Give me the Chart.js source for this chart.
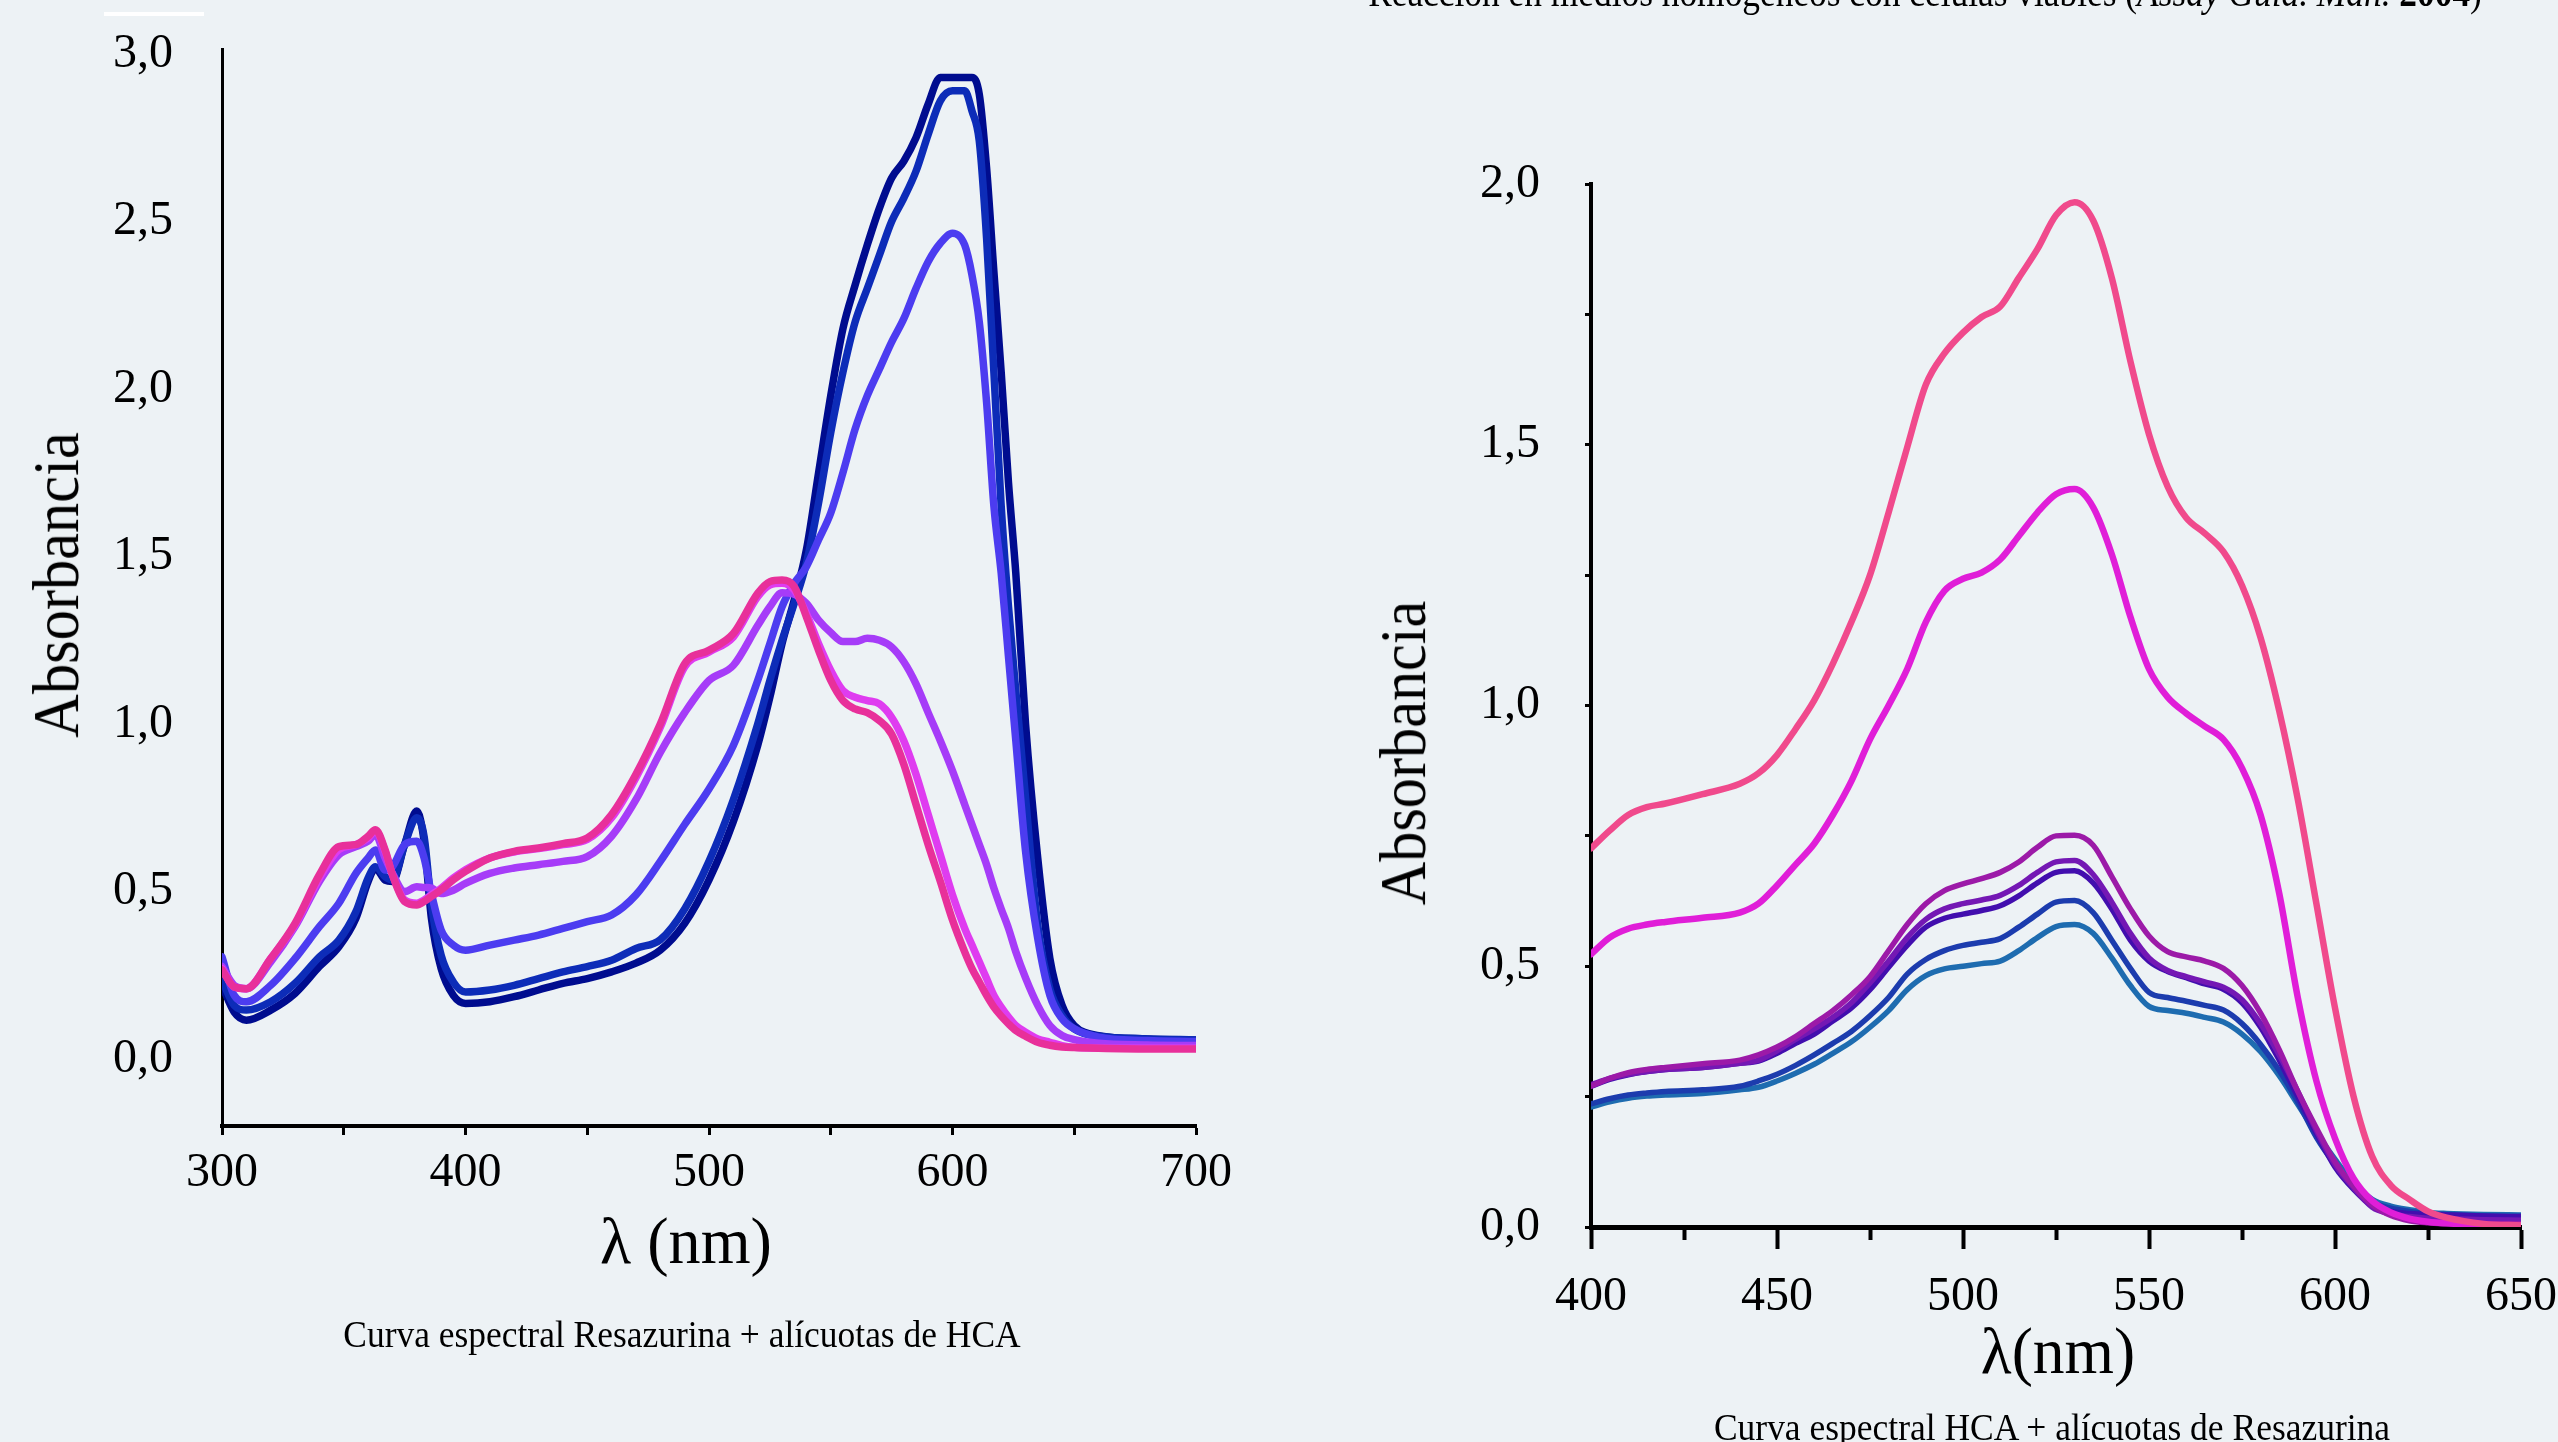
<!DOCTYPE html>
<html>
<head>
<meta charset="utf-8">
<script src="https://cdn.jsdelivr.net/npm/chart.js@4.4.1/dist/chart.umd.min.js"></script>
<style>
  html, body { margin: 0; padding: 0; width: 2558px; height: 1442px; overflow: hidden; background: #edf2f5; }
  canvas { position: absolute; top: 0; }
  .txt { position: absolute; white-space: nowrap; color: #000; font-family: "Liberation Serif", serif; line-height: 1.15; }
  .bar { position: absolute; left: 104px; top: 12px; width: 100px; height: 4px; background: #fff; }
</style>
</head>
<body>
<div class="bar"></div>
<canvas id="leftChart" width="1280" height="1442" style="left:0"></canvas>
<canvas id="rightChart" width="1278" height="1442" style="left:1280px"></canvas>

<div class="txt fit" data-x="1925" data-y="-7" data-w="1114" style="font-size:40px">Reacción en medios homogéneos con células viables (<i>Assay Guid. Man.</i> <b>2004</b>)</div>
<div class="txt fit" data-x="56" data-y="585" data-w="306" data-rot="1" style="font-size:66px">Absorbancia</div>
<div class="txt fit" data-x="686" data-y="1241" data-w="172" style="font-size:66px">λ (nm)</div>
<div class="txt fit" data-x="682" data-y="1335" data-w="677" style="font-size:38px">Curva espectral Resazurina + alícuotas de HCA</div>
<div class="txt fit" data-x="1403" data-y="753" data-w="305" data-rot="1" style="font-size:66px">Absorbancia</div>
<div class="txt fit" data-x="2058" data-y="1351" data-w="154" style="font-size:66px">λ(nm)</div>
<div class="txt fit" data-x="2052" data-y="1428" data-w="676" style="font-size:38px">Curva espectral HCA + alícuotas de Resazurina</div>

<script>
// =======================================
// DATA - LEFT PANEL (Resazurina + alícuotas de HCA)
// =======================================
const leftNm = [300, 305, 310, 320, 330, 340, 348, 355, 360, 363,
  367, 370, 375, 380, 383, 386, 390, 395, 400, 410,
  420, 430, 440, 450, 460, 470, 480, 490, 500, 510,
  520, 525, 530, 535, 540, 545, 550, 555, 560, 565,
  570, 575, 580, 585, 590, 595, 600, 605, 608, 611,
  614, 617, 620, 623, 626, 630, 635, 640, 645, 650,
  660, 680, 700];

const leftNavy = [0.22, 0.14, 0.116, 0.146, 0.196, 0.276, 0.335, 0.42, 0.53, 0.569,
  0.534, 0.53, 0.64, 0.74, 0.65, 0.42, 0.27, 0.19, 0.166, 0.171,
  0.186, 0.206, 0.226, 0.24, 0.26, 0.286, 0.325, 0.405, 0.535, 0.709,
  0.936, 1.08, 1.24, 1.37, 1.52, 1.75, 1.98, 2.18, 2.31, 2.43,
  2.54, 2.63, 2.68, 2.75, 2.85, 2.93, 2.93, 2.93, 2.93, 2.88,
  2.66, 2.35, 2.05, 1.72, 1.45, 1.0, 0.6, 0.3, 0.16, 0.1,
  0.07, 0.06, 0.057];

const leftBlue = [0.236, 0.16, 0.146, 0.171, 0.226, 0.305, 0.355, 0.44, 0.54, 0.574,
  0.544, 0.534, 0.64, 0.72, 0.664, 0.46, 0.31, 0.23, 0.2, 0.206,
  0.22, 0.24, 0.26, 0.276, 0.295, 0.33, 0.356, 0.448, 0.59, 0.774,
  1.0, 1.13, 1.25, 1.36, 1.48, 1.66, 1.87, 2.05, 2.2, 2.3,
  2.4, 2.5, 2.57, 2.65, 2.76, 2.86, 2.89, 2.89, 2.83, 2.74,
  2.45, 2.05, 1.65, 1.35, 1.1, 0.78, 0.4, 0.21, 0.13, 0.09,
  0.068, 0.06, 0.057];

const leftViolet = [0.305, 0.19, 0.171, 0.22, 0.3, 0.395, 0.465, 0.554, 0.6, 0.624,
  0.564, 0.574, 0.64, 0.65, 0.6, 0.494, 0.385, 0.34, 0.325, 0.34,
  0.355, 0.37, 0.39, 0.41, 0.43, 0.49, 0.59, 0.7, 0.806, 0.936,
  1.13, 1.24, 1.35, 1.42, 1.47, 1.55, 1.63, 1.75, 1.88, 1.98,
  2.06, 2.14, 2.21, 2.3, 2.38, 2.435, 2.465, 2.43, 2.34, 2.2,
  1.96, 1.65, 1.45, 1.2, 0.95, 0.62, 0.36, 0.19, 0.12, 0.09,
  0.065, 0.055, 0.052];

const leftPurple = [0.276, 0.22, 0.21, 0.29, 0.395, 0.53, 0.61, 0.634, 0.65, 0.67,
  0.6, 0.554, 0.5, 0.514, 0.512, 0.51, 0.494, 0.504, 0.524, 0.554,
  0.57, 0.58, 0.59, 0.604, 0.665, 0.774, 0.915, 1.034, 1.13, 1.175,
  1.294, 1.35, 1.392, 1.387, 1.36, 1.31, 1.273, 1.246, 1.246, 1.256,
  1.25, 1.23, 1.186, 1.12, 1.034, 0.95, 0.86, 0.76, 0.7, 0.64,
  0.58, 0.51, 0.448, 0.39, 0.32, 0.242, 0.16, 0.1, 0.07, 0.058,
  0.047, 0.042, 0.04];

const leftMagenta = [0.27, 0.215, 0.21, 0.3, 0.4, 0.54, 0.625, 0.64, 0.66, 0.68,
  0.62, 0.55, 0.475, 0.465, 0.475, 0.49, 0.51, 0.54, 0.565, 0.6,
  0.618, 0.628, 0.64, 0.655, 0.72, 0.84, 0.99, 1.17, 1.215, 1.26,
  1.38, 1.415, 1.42, 1.4, 1.33, 1.24, 1.16, 1.1, 1.08, 1.07,
  1.06, 1.02, 0.95, 0.85, 0.73, 0.61, 0.49, 0.39, 0.34, 0.29,
  0.24, 0.19, 0.155, 0.125, 0.1, 0.08, 0.06, 0.05, 0.04, 0.035,
  0.033, 0.032, 0.032];

const leftPink = [0.266, 0.215, 0.21, 0.3, 0.405, 0.55, 0.634, 0.64, 0.665, 0.684,
  0.624, 0.55, 0.47, 0.46, 0.47, 0.485, 0.505, 0.535, 0.56, 0.6,
  0.62, 0.63, 0.643, 0.66, 0.73, 0.85, 1.0, 1.18, 1.22, 1.27,
  1.39, 1.425, 1.43, 1.41, 1.32, 1.22, 1.13, 1.07, 1.045, 1.034,
  1.01, 0.97, 0.88, 0.76, 0.64, 0.53, 0.415, 0.32, 0.27, 0.23,
  0.19, 0.155, 0.128, 0.105, 0.085, 0.068, 0.05, 0.041, 0.036, 0.034,
  0.032, 0.03, 0.03];

const leftXTicks = [300, 350, 400, 450, 500, 550, 600, 650, 700];
const leftYTicks = [0, 0.5, 1, 1.5, 2, 2.5, 3];

// =======================================
// DATA - RIGHT PANEL (HCA + alícuotas de Resazurina)
// =======================================
const rightNm = [400, 405, 410, 415, 420, 430, 440, 445, 450, 455,
  460, 465, 470, 475, 480, 485, 490, 495, 500, 505,
  510, 515, 520, 525, 530, 535, 540, 545, 550, 555,
  560, 565, 570, 575, 580, 585, 590, 595, 600, 605,
  610, 615, 620, 625, 630, 640, 650];

const rightPink = [0.726, 0.76, 0.79, 0.805, 0.812, 0.83, 0.85, 0.87, 0.905, 0.955,
  1.01, 1.08, 1.16, 1.25, 1.37, 1.495, 1.615, 1.675, 1.715, 1.745,
  1.765, 1.82, 1.875, 1.94, 1.965, 1.93, 1.82, 1.66, 1.52, 1.42,
  1.36, 1.33, 1.295, 1.23, 1.13, 0.99, 0.82, 0.62, 0.42, 0.25,
  0.135, 0.08, 0.053, 0.03, 0.018, 0.006, 0.003];

const rightMagenta = [0.523, 0.555, 0.572, 0.58, 0.585, 0.593, 0.603, 0.62, 0.655, 0.695,
  0.735, 0.79, 0.855, 0.935, 1.0, 1.07, 1.16, 1.22, 1.243, 1.255,
  1.28, 1.325, 1.37, 1.405, 1.415, 1.38, 1.29, 1.17, 1.07, 1.016,
  0.985, 0.96, 0.935, 0.88, 0.79, 0.64, 0.44, 0.28, 0.17, 0.093,
  0.05, 0.028, 0.016, 0.01, 0.007, 0.004, 0.003];

const rightPurple = [0.27, 0.285, 0.296, 0.302, 0.306, 0.313, 0.32, 0.33, 0.345, 0.365,
  0.39, 0.415, 0.445, 0.48, 0.53, 0.58, 0.62, 0.645, 0.658, 0.668,
  0.68, 0.7, 0.728, 0.75, 0.751, 0.732, 0.672, 0.61, 0.558, 0.528,
  0.518, 0.51, 0.496, 0.463, 0.41, 0.34, 0.26, 0.19, 0.125, 0.078,
  0.042, 0.022, 0.012, 0.008, 0.006, 0.006, 0.006];

const rightViolet = [0.273, 0.285, 0.293, 0.298, 0.302, 0.306, 0.314, 0.32, 0.338, 0.36,
  0.38, 0.402, 0.43, 0.468, 0.51, 0.555, 0.59, 0.61, 0.62, 0.627,
  0.636, 0.655, 0.68, 0.7, 0.703, 0.676, 0.623, 0.563, 0.516, 0.492,
  0.48, 0.47, 0.46, 0.436, 0.39, 0.33, 0.26, 0.185, 0.12, 0.075,
  0.038, 0.025, 0.02, 0.017, 0.016, 0.014, 0.013];

const rightIndigo = [0.27, 0.283, 0.292, 0.298, 0.302, 0.306, 0.314, 0.318, 0.333, 0.352,
  0.37, 0.395, 0.42, 0.455, 0.498, 0.54, 0.575, 0.592, 0.6, 0.607,
  0.616, 0.635, 0.66, 0.68, 0.683, 0.66, 0.61, 0.55, 0.51, 0.49,
  0.478, 0.466, 0.456, 0.43, 0.383, 0.32, 0.25, 0.18, 0.115, 0.072,
  0.04, 0.03, 0.026, 0.024, 0.023, 0.021, 0.02];

const rightBlue = [0.236, 0.246, 0.253, 0.257, 0.26, 0.263, 0.27, 0.28, 0.293, 0.31,
  0.33, 0.352, 0.375, 0.405, 0.44, 0.485, 0.513, 0.53, 0.54, 0.546,
  0.553, 0.575, 0.6, 0.623, 0.626, 0.603, 0.55, 0.496, 0.45, 0.44,
  0.433, 0.425, 0.416, 0.39, 0.35, 0.3, 0.24, 0.172, 0.12, 0.078,
  0.048, 0.036, 0.03, 0.026, 0.024, 0.021, 0.02];

const rightSteel = [0.23, 0.24, 0.247, 0.251, 0.253, 0.256, 0.263, 0.268, 0.28, 0.295,
  0.312, 0.333, 0.355, 0.383, 0.415, 0.455, 0.482, 0.495, 0.5, 0.505,
  0.51, 0.53, 0.555, 0.576, 0.58, 0.563, 0.516, 0.463, 0.423, 0.415,
  0.41, 0.402, 0.393, 0.37, 0.336, 0.29, 0.235, 0.18, 0.13, 0.085,
  0.053, 0.04, 0.033, 0.028, 0.026, 0.024, 0.023];

const rightXMajor = [400, 450, 500, 550, 600, 650];
const rightXMinor = [425, 475, 525, 575, 625];
const rightYTicks = [0, 0.25, 0.5, 0.75, 1, 1.25, 1.5, 1.75, 2];

// =======================================
// HELPERS
// =======================================
const tickFont = { family: "Liberation Serif", size: 48 };

function toPoints(xs, ys) {
  return xs.map((x, i) => ({ x: x, y: ys[i] }));
}

function comma(v) {
  return Number(v).toFixed(1).replace(".", ",");
}

function fixTicks(values) {
  return (scale) => {
    scale.ticks = values.map((v) => ({ value: v }));
  };
}

// fixed box size, and no extra label overflow padding pushed into the layout
function fixBox(size) {
  return (s) => {
    if (s.isHorizontal()) s.height = size;
    else s.width = size;
    s.paddingTop = 0;
    s.paddingBottom = 0;
    s.paddingLeft = 0;
    s.paddingRight = 0;
  };
}

function curve(xs, ys, color, width) {
  return {
    data: toPoints(xs, ys),
    borderColor: color,
    borderWidth: width,
    pointRadius: 0,
    fill: false,
    cubicInterpolationMode: "monotone",
    borderCapStyle: "round",
    borderJoinStyle: "round",
  };
}

const baseOptions = {
  responsive: false,
  animation: false,
  devicePixelRatio: 1,
  plugins: { legend: { display: false }, tooltip: { enabled: false } },
};

// =======================================
// LEFT CHART
// =======================================
new Chart(document.getElementById("leftChart"), {
  type: "line",
  data: {
    datasets: [
      curve(leftNm, leftPink, "#e8309a", 7.5),
      curve(leftNm, leftMagenta, "#df3cf0", 7.5),
      curve(leftNm, leftPurple, "#a63cf8", 7.5),
      curve(leftNm, leftViolet, "#4c3cf0", 7.5),
      curve(leftNm, leftBlue, "#0d2cb8", 7.5),
      curve(leftNm, leftNavy, "#000c8f", 7.5),
    ],
  },
  options: {
    ...baseOptions,
    layout: { padding: { left: 0, top: 49, right: 84, bottom: 0 } },
    scales: {
      x: {
        type: "linear",
        min: 300,
        max: 700,
        afterBuildTicks: fixTicks(leftXTicks),
        afterFit: fixBox(316),
        grid: { drawOnChartArea: false, drawTicks: true, tickLength: 9, tickWidth: 3, tickColor: "#000", color: "#000" },
        border: { display: true, color: "#000", width: 4 },
        ticks: {
          autoSkip: false,
          maxRotation: 0,
          padding: 10,
          color: "#000",
          font: tickFont,
          callback: (v) => (v % 100 === 0 ? String(v) : ""),
        },
      },
      y: {
        type: "linear",
        min: -0.2,
        max: 3.015,
        afterBuildTicks: fixTicks(leftYTicks),
        afterFit: fixBox(222),
        grid: { display: false },
        border: { display: true, color: "#000", width: 3 },
        ticks: { autoSkip: false, padding: 41, color: "#000", font: tickFont, callback: comma },
      },
    },
  },
});

// =======================================
// RIGHT CHART
// =======================================
new Chart(document.getElementById("rightChart"), {
  type: "line",
  data: {
    datasets: [
      curve(rightNm, rightPink, "#f04a8c", 6.5),
      curve(rightNm, rightMagenta, "#e01ed8", 6.5),
      curve(rightNm, rightPurple, "#9c1aa8", 5.5),
      curve(rightNm, rightViolet, "#7418b4", 5.5),
      curve(rightNm, rightIndigo, "#420eae", 5.5),
      curve(rightNm, rightBlue, "#1c3cae", 5.5),
      curve(rightNm, rightSteel, "#1e6cb0", 5.5),
    ],
  },
  options: {
    ...baseOptions,
    layout: { padding: { left: 0, top: 184, right: 37, bottom: 0 } },
    scales: {
      xMinor: {
        type: "linear",
        axis: "x",
        position: "bottom",
        weight: 0,
        min: 400,
        max: 650,
        afterBuildTicks: fixTicks(rightXMinor),
        afterFit: fixBox(0),
        grid: { drawOnChartArea: false, drawTicks: true, tickLength: 13, tickWidth: 4, tickColor: "#000", color: "#000" },
        border: { display: true, color: "#000", width: 5 },
        ticks: { autoSkip: false, maxRotation: 0, padding: 0, font: { size: 1 }, callback: () => "" },
      },
      x: {
        type: "linear",
        position: "bottom",
        weight: 1,
        min: 400,
        max: 650,
        afterBuildTicks: fixTicks(rightXMajor),
        afterFit: fixBox(215),
        grid: { drawOnChartArea: false, drawTicks: true, tickLength: 22, tickWidth: 4, tickColor: "#000", color: "#000" },
        border: { display: true, color: "#000", width: 5 },
        ticks: { autoSkip: false, maxRotation: 0, padding: 20, color: "#000", font: tickFont, callback: (v) => String(v) },
      },
      y: {
        type: "linear",
        min: 0,
        max: 2,
        afterBuildTicks: fixTicks(rightYTicks),
        afterFit: fixBox(311),
        grid: { drawOnChartArea: false, drawTicks: true, tickLength: 6, tickWidth: 3, tickColor: "#000", color: "#000" },
        border: { display: true, color: "#000", width: 4 },
        ticks: {
          autoSkip: false,
          padding: 45,
          color: "#000",
          font: tickFont,
          callback: (v) => (Math.round(v * 100) % 50 === 0 ? comma(v) : ""),
        },
      },
    },
  },
});

// =======================================
// TEXT PLACEMENT (fit captions to measured widths)
// =======================================
document.querySelectorAll(".fit").forEach((el) => {
  const w = el.offsetWidth;
  const k = Number(el.dataset.w) / w;
  el.style.left = el.dataset.x + "px";
  el.style.top = el.dataset.y + "px";
  const rot = el.dataset.rot ? " rotate(-90deg)" : "";
  el.style.transform = `translate(-50%, -50%)${rot} scaleX(${k})`;
});
</script>
</body>
</html>
